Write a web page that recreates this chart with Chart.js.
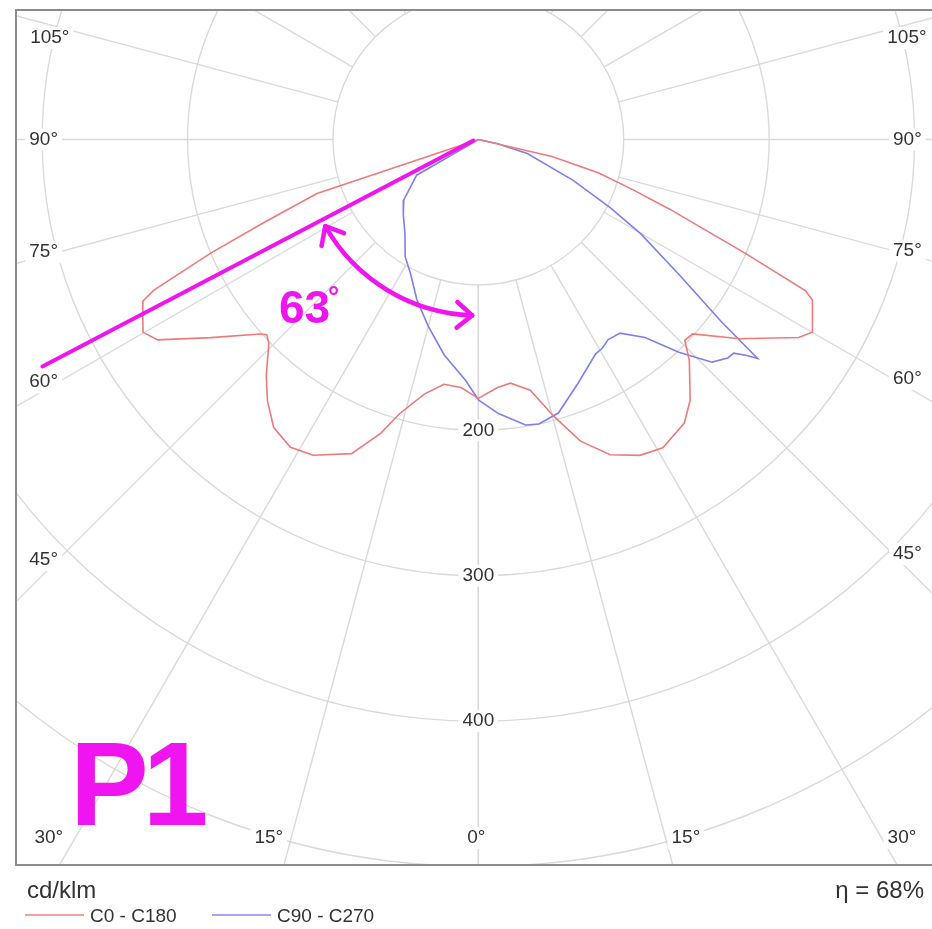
<!DOCTYPE html>
<html>
<head>
<meta charset="utf-8">
<title>P1 polar diagram</title>
<script src="https://cdn.jsdelivr.net/npm/chart.js@4.4.1/dist/chart.umd.min.js"></script>
<style>
  html, body { margin: 0; padding: 0; background: #fff; }
  #wrap { width: 932px; height: 929px; position: relative; }
</style>
</head>
<body>
<div id="wrap"><canvas id="polar"></canvas></div>
<script>
// --- data: gamma angle from nadir (deg) -> luminous intensity (cd/klm) ---
// C0 - C180 (red): left half = C180, right half = C0
const gammaC180 = [0, 4, 8, 12, 16, 18.4, 22, 27.6, 31.4, 35.4, 38.9, 42, 45.8, 47.3, 48.3, 53.5, 58, 60.1, 62.6, 64.3, 65.1, 67, 69, 71.5, 90];
const cdC180    = [178, 171, 170, 179, 196, 213, 233, 245, 248, 243, 231, 218, 201, 198, 201, 229, 260, 266, 260, 256, 246, 200, 155, 117, 0];
const gammaC0   = [0, 4.4, 7.5, 11.7, 15.2, 18.7, 22.7, 27.1, 30.9, 36, 39.1, 43.7, 45.8, 47.8, 52.7, 58.3, 60, 64.3, 65.2, 66.9, 70, 72, 74.5, 77, 90];
const cdC0      = [178, 171, 169, 176, 197, 219, 235, 244, 247, 241, 231, 210, 198, 199, 226, 259, 265, 255, 248, 200, 140, 112, 86, 52, 0];

// C90 - C270 (blue): left half = C270, right half = C90
const gammaC270 = [0, 3, 9, 15, 21, 27, 32, 38, 45, 51, 60, 90];
const cdC270    = [179, 166, 150, 133, 118, 103, 95, 82, 73, 66, 49, 0];
const gammaC90  = [0, 4.2, 9.4, 12, 16.3, 22.3, 28.7, 30.6, 33, 36.2, 40.1, 43.3, 46.4, 48.8, 50.1, 51.2, 51.9, 53.2, 56, 59.9, 62.7, 66.7, 74.1, 78, 90];
const cdC90     = [179, 189, 199, 200, 196, 181, 168, 167, 164, 165, 178, 201, 222, 228, 229, 237, 244, 208, 167, 129, 102, 71, 35, 13, 0];

// grid
const ringValues   = [100, 200, 300, 400, 500, 600];
const ringLabelled = [200, 300, 400];
const spokeAngles  = [0, 15, 30, 45, 60, 75, 90, 105, 120, 135, 150, 165, 180];
const angleLabels  = [0, 15, 30, 45, 60, 75, 90, 105];

// annotation
const cutoffText  = '63';
const cutoffAngle = 62.5;
const cutoffLen   = 338;
const arcRadius   = 121;
const arcFrom     = 2;
const arcTo       = 60.5;

// axis ranges (cd/klm) so that the centre sits where the reference puts it
const xMin = -329, xMax = 312, yMin = -543, yMax = 96;

const MAGENTA = '#f014f0';
const RED  = '#ee7b7b';
const BLUE = '#7f7fee';
const FRAME = { left: 16, top: 10, right: 934, bottom: 865 };

const rad = d => d * Math.PI / 180;

function halfPlane(gammas, values, side) {
  return gammas.map((g, i) => ({
    x: side * values[i] * Math.sin(rad(g)),
    y: -values[i] * Math.cos(rad(g)),
  }));
}
function fullCurve(gL, vL, gR, vR) {
  return halfPlane(gL, vL, -1).reverse().concat(halfPlane(gR, vR, 1));
}

function labelBox(ctx, text, px, py, align) {
  const w = ctx.measureText(text).width;
  let left = px;
  if (align === 'center') left = px - w / 2;
  else if (align === 'right') left = px - w;
  ctx.fillStyle = '#fff';
  ctx.fillRect(left - 4, py - 11, w + 8, 22);
  ctx.fillStyle = '#333';
  ctx.textAlign = align;
  ctx.textBaseline = 'middle';
  ctx.fillText(text, px, py);
}

const polarGrid = {
  id: 'polarGrid',
  beforeDatasetsDraw(chart) {
    const { ctx, scales: { x, y } } = chart;
    const cx = x.getPixelForValue(0), cy = y.getPixelForValue(0);
    const P = (side, g, v) => [x.getPixelForValue(side * v * Math.sin(rad(g))), y.getPixelForValue(-v * Math.cos(rad(g)))];

    ctx.save();
    ctx.beginPath();
    ctx.rect(FRAME.left, FRAME.top, FRAME.right - FRAME.left, FRAME.bottom - FRAME.top);
    ctx.clip();
    ctx.strokeStyle = '#dadada';
    ctx.lineWidth = 1.4;
    ringValues.forEach(v => {
      const r = x.getPixelForValue(v) - cx;
      ctx.beginPath();
      ctx.arc(cx, cy, r, 0, Math.PI * 2);
      ctx.stroke();
    });
    spokeAngles.forEach(g => {
      [-1, 1].forEach(side => {
        const a = P(side, g, ringValues[0]);
        const b = P(side, g, 800);
        ctx.beginPath();
        ctx.moveTo(a[0], a[1]);
        ctx.lineTo(b[0], b[1]);
        ctx.stroke();
      });
    });

    // labels
    ctx.font = '19px "Liberation Sans", Arial, sans-serif';
    ringLabelled.forEach(v => {
      const p = P(1, 0, v);
      labelBox(ctx, String(v), p[0], p[1], 'center');
    });
    const L = 58, R = 893, T = 38, B = 838;
    angleLabels.forEach(g => {
      (g === 0 ? [1] : [-1, 1]).forEach(side => {
        const dx = side * Math.sin(rad(g)), dy = Math.cos(rad(g));
        let tS = Infinity, tB = Infinity;
        if (Math.abs(dx) > 1e-6) tS = ((side < 0 ? L : R) - cx) / dx;
        if (dy > 1e-6) tB = (B - cy) / dy;
        const text = g + '°';
        if (tS < tB) {
          const py = cy + tS * dy;
          if (py < T) {
            // near the top: hang the label under the spoke
            const t = (T - 8 - cy) / dy;
            labelBox(ctx, text, cx + t * dx, T, side < 0 ? 'right' : 'left');
          } else {
            labelBox(ctx, text, side < 0 ? L : R, py, side < 0 ? 'right' : 'left');
          }
        } else {
          const px = cx + tB * dx;
          if (g === 0) labelBox(ctx, text, px - 2, B, 'center');
          else if (side < 0) labelBox(ctx, text, px - (g > 20 ? 12 : 8), B, 'right');
          else labelBox(ctx, text, px + 6, B, 'left');
        }
      });
    });
    ctx.restore();

    // frame
    ctx.save();
    ctx.strokeStyle = '#8c8c8c';
    ctx.lineWidth = 2;
    ctx.beginPath();
    ctx.moveTo(FRAME.right, FRAME.top);
    ctx.lineTo(FRAME.left, FRAME.top);
    ctx.lineTo(FRAME.left, FRAME.bottom);
    ctx.lineTo(FRAME.right, FRAME.bottom);
    ctx.stroke();
    ctx.restore();
  },

  afterDatasetsDraw(chart) {
    const { ctx, scales: { x, y } } = chart;
    const cx = x.getPixelForValue(0), cy = y.getPixelForValue(0);
    const P = (side, g, v) => [x.getPixelForValue(side * v * Math.sin(rad(g))), y.getPixelForValue(-v * Math.cos(rad(g)))];

    ctx.save();
    ctx.strokeStyle = MAGENTA;
    ctx.fillStyle = MAGENTA;
    ctx.lineCap = 'round';
    ctx.lineJoin = 'round';

    // cut-off line
    const end = P(-1, cutoffAngle, cutoffLen);
    ctx.lineWidth = 4;
    ctx.beginPath();
    ctx.moveTo(cx - 5, cy + 1);
    ctx.lineTo(end[0], end[1]);
    ctx.stroke();

    // double arrow arc
    const R = x.getPixelForValue(arcRadius) - cx;
    ctx.lineWidth = 4.5;
    ctx.beginPath();
    ctx.arc(cx, cy, R, rad(90 + arcFrom), rad(90 + arcTo));
    ctx.stroke();
    const head = (g, dir) => {
      const p = P(-1, g, arcRadius);
      const th = rad(90 + g);
      const tx = -Math.sin(th) * dir, ty = Math.cos(th) * dir;
      const back = Math.atan2(-ty, -tx);
      ctx.beginPath();
      ctx.moveTo(p[0] + 20 * Math.cos(back + 0.7), p[1] + 20 * Math.sin(back + 0.7));
      ctx.lineTo(p[0], p[1]);
      ctx.lineTo(p[0] + 20 * Math.cos(back - 0.7), p[1] + 20 * Math.sin(back - 0.7));
      ctx.stroke();
    };
    head(arcTo, 1);
    head(arcFrom, -1);

    ctx.textAlign = 'left';
    ctx.textBaseline = 'alphabetic';
    ctx.font = 'bold 46px "Liberation Sans", Arial, sans-serif';
    ctx.fillText(cutoffText, 279, 323);
    ctx.font = 'bold 28px "Liberation Sans", Arial, sans-serif';
    ctx.fillText('°', 328, 306);

    ctx.font = 'bold 118px "Liberation Sans", Arial, sans-serif';
    ctx.letterSpacing = '-6px';
    ctx.fillText('P1', 70, 825);
    ctx.letterSpacing = '0px';
    ctx.restore();

    // footer: unit, efficiency, legend
    ctx.save();
    ctx.fillStyle = '#333';
    ctx.textBaseline = 'alphabetic';
    ctx.font = '24px "Liberation Sans", Arial, sans-serif';
    ctx.textAlign = 'left';
    ctx.fillText('cd/klm', 27, 898);
    ctx.textAlign = 'right';
    ctx.fillText('η = 68%', 924, 898);

    ctx.font = '19px "Liberation Sans", Arial, sans-serif';
    ctx.textAlign = 'left';
    ctx.textBaseline = 'middle';
    chart.data.datasets.forEach((ds, i) => {
      const x0 = 25 + i * 187;
      ctx.strokeStyle = ds.borderColor;
      ctx.globalAlpha = 0.7;
      ctx.lineWidth = 2;
      ctx.beginPath();
      ctx.moveTo(x0, 915);
      ctx.lineTo(x0 + 59, 915);
      ctx.stroke();
      ctx.globalAlpha = 1;
      ctx.fillText(ds.label, x0 + 65, 917);
    });
    ctx.restore();
  },
};

new Chart(document.getElementById('polar'), {
  type: 'scatter',
  data: {
    datasets: [
      { label: 'C0 - C180', data: fullCurve(gammaC180, cdC180, gammaC0, cdC0),
        showLine: true, borderColor: RED, borderWidth: 1.6, pointRadius: 0, tension: 0 },
      { label: 'C90 - C270', data: fullCurve(gammaC270, cdC270, gammaC90, cdC90),
        showLine: true, borderColor: BLUE, borderWidth: 1.6, pointRadius: 0, tension: 0 },
    ],
  },
  options: {
    responsive: true, maintainAspectRatio: false, animation: false, events: [],
    layout: { padding: 0 },
    plugins: { legend: { display: false }, tooltip: { enabled: false } },
    scales: {
      x: { type: 'linear', min: xMin, max: xMax, display: false },
      y: { type: 'linear', min: yMin, max: yMax, display: false },
    },
  },
  plugins: [polarGrid],
});
</script>
</body>
</html>
